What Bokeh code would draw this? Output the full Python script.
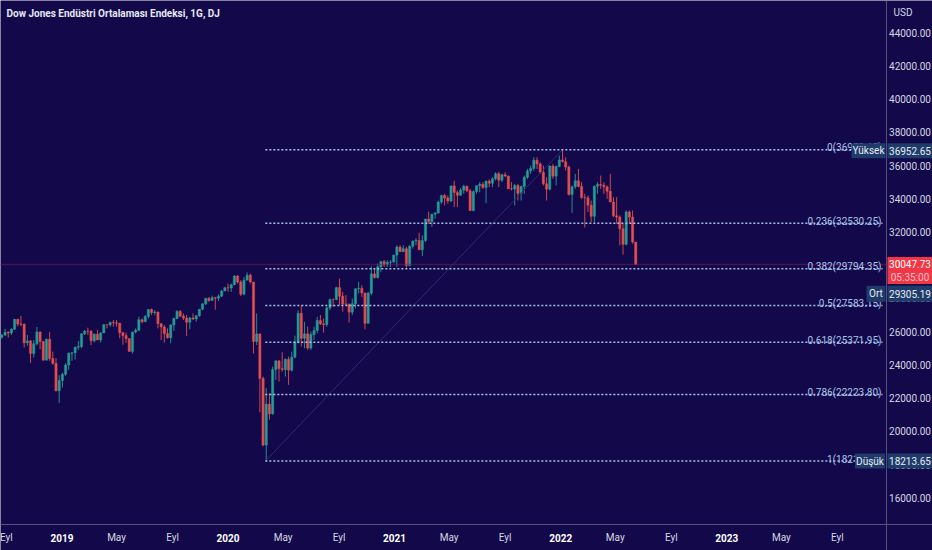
import pandas as pd
from bokeh.plotting import figure
from bokeh.models import Range1d, Span
from bokeh.core.properties import value
from bokeh.embed import file_html
from bokeh.resources import INLINE

# ---------------- data (weekly candles) ----------------
first_week = "2018-08-20"
opens = [25670, 25790, 25965, 25917, 26154, 26744, 26458, 26447, 25340, 25444, 24688, 25270, 25989, 25413, 24286, 25538, 24389, 24100, 22445, 23062,
         23433, 23996, 24706, 24737, 25064, 25106, 25883, 26031, 26026, 25450, 25849, 25502, 25929, 26425, 26412, 26559, 26543, 26505, 25942, 25764, 25586, 24815, 25984, 26090, 26719, 26600, 26922, 27332, 27154, 27192, 26485, 26287, 25886, 25629, 26403, 26797, 27220, 26935, 26820, 26573, 26817, 26770, 26958, 27347, 27681, 28005, 27876, 28051, 28015, 28135, 28455, 28645,
         28634, 28823, 29348, 28989, 28256, 29102, 29398, 28992, 25409, 25864, 23186, 19174, 21637, 21053, 23719, 24242, 23775, 23724, 24331, 23685, 24465, 25383, 27111, 25605, 25871, 25016, 25827, 26075, 26672, 26470, 26428, 27433, 27931, 27930, 28654, 28133, 27666, 27657, 27174, 27683, 28587, 28606, 28335, 26502, 28323, 29479, 29263, 29910, 30218, 30046, 30179, 30200,
         30606, 31098, 30814, 30997, 29983, 31148, 31458, 31494, 30932, 31496, 32779, 32628, 33073, 33153, 33801, 34200, 34043, 33875, 34778, 34382, 34208, 34529, 34756, 34480, 33290, 34433, 34786, 34870, 34688, 35062, 34935, 35209, 35515, 35120, 35455, 35369, 34608, 34585, 34798, 34326, 34746, 35295, 35677, 35820, 36328, 36100, 35602, 34899, 34580, 35971, 35365, 35950,
         36338, 36232, 35912, 34265, 34725, 35089, 34738, 34079, 34059, 33615, 32944, 34755, 34862, 34818, 34721, 34451, 33811, 32977, 32900, 32197, 31262, 33213, 32900, 31393]
highs = [25850, 26170, 26030, 26200, 26770, 26770, 26951, 26500, 25800, 25500, 25500, 26280, 26000, 25420, 25600, 25980, 24800, 24400, 23380, 23530,
         24100, 24750, 24760, 25100, 25440, 25900, 26100, 26240, 26100, 25900, 26110, 25960, 26450, 26450, 26600, 26700, 26700, 26550, 26000, 25950, 25600, 26000, 26200, 26900, 26800, 27000, 27360, 27398, 27300, 27200, 26500, 26400, 26200, 26450, 26850, 27300, 27300, 27100, 27000, 26900, 27100, 27000, 27350, 27700, 28050, 28090, 28170, 28100, 28250, 28500, 28700, 28900,
         28900, 29400, 29400, 29100, 29300, 29568, 29500, 28992, 27100, 25900, 23300, 22600, 22300, 23900, 24300, 24300, 24760, 24400, 24500, 24800, 25760, 27300, 27580, 26600, 26300, 26000, 26300, 26900, 27000, 26800, 27500, 28000, 28000, 28700, 29199, 28400, 28200, 27700, 28000, 28600, 29000, 28800, 28340, 28400, 29933, 29800, 30100, 30250, 30320, 30300, 30300, 30640,
         31200, 31200, 31200, 31100, 31200, 31500, 31640, 31960, 31800, 32800, 33227, 33100, 33200, 33900, 34250, 34300, 34200, 34810, 35091, 34500, 34650, 34850, 34800, 34600, 34500, 34800, 35000, 35000, 35100, 35171, 35300, 35600, 35630, 35500, 35600, 35400, 35000, 34900, 34900, 34800, 35400, 35800, 36000, 36500, 36500, 36200, 36000, 35300, 36000, 36100, 36000, 36600,
         36952.65, 36500, 36000, 34800, 35500, 35800, 35000, 34300, 34200, 33900, 34800, 35000, 35400, 35000, 34800, 35500, 34100, 34100, 33000, 32500, 33300, 33300, 33300, 31393]
lows = [25580, 25760, 25650, 25800, 26100, 26330, 26330, 25050, 25150, 24122, 24450, 25170, 24950, 24270, 24280, 24250, 24000, 22396, 21712, 22640,
        23340, 23700, 24250, 24320, 24900, 25000, 25800, 25800, 25200, 25360, 25500, 25340, 25920, 26200, 26300, 26300, 26300, 25600, 25220, 25330, 24800, 24680, 25900, 26030, 26500, 26600, 26800, 27000, 27000, 26200, 25500, 25340, 25600, 25300, 26050, 26750, 26900, 26700, 25740, 26150, 26700, 26600, 26900, 27300, 27600, 27800, 27870, 27320, 27850, 28100, 28450, 28400,
        28400, 28800, 28900, 28150, 28200, 29100, 28900, 24681, 25200, 21150, 19100, 18213.65, 20700, 21000, 23100, 23000, 23600, 23300, 22800, 23600, 24400, 25300, 25100, 25000, 24900, 24900, 25500, 25900, 26400, 25950, 26300, 27300, 27500, 27900, 27600, 27200, 27600, 26540, 27000, 27400, 28300, 28100, 26143, 26500, 28200, 29200, 29200, 29600, 29900, 29900, 29900, 30150,
        29900, 30800, 30800, 29856, 29950, 31000, 31200, 30900, 30547, 31400, 32500, 32300, 32800, 33100, 33700, 33600, 33700, 33800, 33500, 33500, 34200, 34300, 34400, 33270, 33250, 34300, 34400, 34600, 33741, 34700, 34700, 35100, 34700, 35000, 35300, 34600, 34500, 33600, 33900, 33900, 34300, 35200, 35500, 35700, 35800, 35500, 34800, 33900, 34500, 35200, 34800, 35900,
        36200, 35700, 34200, 33150, 34600, 34700, 34000, 32272, 33200, 32600, 32600, 34300, 34600, 34300, 34000, 33800, 32900, 32500, 31200, 30635, 31200, 32500, 31300, 30040]
closes = [25790, 25965, 25917, 26154, 26744, 26458, 26447, 25340, 25444, 24688, 25270, 25989, 25413, 24286, 25538, 24389, 24100, 22445, 23062, 23433,
          23996, 24706, 24737, 25064, 25106, 25883, 26031, 26026, 25450, 25849, 25502, 25929, 26425, 26412, 26559, 26543, 26505, 25942, 25764, 25586, 24815, 25984, 26090, 26719, 26600, 26922, 27332, 27154, 27192, 26485, 26287, 25886, 25629, 26403, 26797, 27220, 26935, 26820, 26573, 26817, 26770, 26958, 27347, 27681, 28005, 27876, 28051, 28015, 28135, 28455, 28645, 28634,
          28823, 29348, 28989, 28256, 29102, 29398, 28992, 25409, 25864, 23186, 19174, 21637, 21053, 23719, 24242, 23775, 23724, 24331, 23685, 24465, 25383, 27111, 25605, 25871, 25016, 25827, 26075, 26672, 26470, 26428, 27433, 27931, 27930, 28654, 28133, 27666, 27657, 27174, 27683, 28587, 28606, 28335, 26502, 28323, 29479, 29263, 29910, 30218, 30046, 30179, 30200, 30606,
          31098, 30814, 30997, 29983, 31148, 31458, 31494, 30932, 31496, 32779, 32628, 33073, 33153, 33801, 34200, 34043, 33875, 34778, 34382, 34208, 34529, 34756, 34480, 33290, 34433, 34786, 34870, 34688, 35062, 34935, 35209, 35515, 35120, 35455, 35369, 34608, 34585, 34798, 34326, 34746, 35295, 35677, 35820, 36328, 36100, 35602, 34899, 34580, 35971, 35365, 35950, 36338,
          36232, 35912, 34265, 34725, 35089, 34738, 34079, 34059, 33615, 32944, 34755, 34862, 34818, 34721, 34451, 33811, 32977, 32900, 32197, 31262, 33213, 32900, 31393, 30047.73]

fib_levels = ["0", "0.236", "0.382", "0.5", "0.618", "0.786", "1"]
fib_prices = [36952.65, 32530.25, 29794.35, 27583.15, 25371.95, 22223.80, 18213.65]
swing_dates = ["2020-03-23", "2022-01-05"]
swing_prices = [18213.65, 36952.65]
last_price = 30047.73
last_time = "05:35:00"
avg_price = 29305.19

x_tick_dates = ["2018-09-01", "2019-01-01", "2019-05-01", "2019-09-01", "2020-01-01", "2020-05-01",
                "2020-09-01", "2021-01-01", "2021-05-01", "2021-09-01", "2022-01-01", "2022-05-01",
                "2022-09-01", "2023-01-01", "2023-05-01", "2023-09-01"]
x_tick_labels = ["Eyl", "2019", "May", "Eyl", "2020", "May", "Eyl", "2021", "May", "Eyl",
                 "2022", "May", "Eyl", "2023", "May", "Eyl"]
y_ticks = [16000, 18000, 20000, 22000, 24000, 26000, 28000, 30000, 32000, 34000, 36000, 38000, 40000, 42000, 44000]

title_text = "Dow Jones Endüstri Ortalaması Endeksi, 1G, DJ"
currency = "USD"

# ---------------- styling ----------------
BG = "#13084a"
AXIS = "#56517c"
TXT = "#d6d8e2"
UP = "#26a69a"
DOWN = "#ef5350"
TAG = "#1f3b69"
RED = "#f23645"
FIB = "#a9c3e8"
FONT = value("Roboto")
FS = value("10px")

DAY = 86400000


def ms(s):
    return pd.Timestamp(s).value // 10**6


# pixel <-> data helpers (the plotting frame covers the whole 932x550 page;
# the price scale and time scale strips are drawn inside it)
X0 = ms("2018-08-19")
XPX = (ms("2023-12-18") - X0) / 886.0
YTOP = 45938.0
YPX = 60.2


def px_x(px):
    return X0 + px * XPX


def py_y(py):
    return YTOP - py * YPX


def y_py(price):
    return (YTOP - price) / YPX


week_ms = [ms(d) for d in pd.date_range(first_week, periods=len(closes), freq="7D")]
mid = [w + 2 * DAY for w in week_ms]

p = figure(width=932, height=550, x_range=Range1d(px_x(0), px_x(932)), y_range=Range1d(py_y(550), py_y(0)),
           output_backend="svg", toolbar_location=None, x_axis_location=None, y_axis_location=None,
           min_border=0, background_fill_color=BG, border_fill_color=BG, outline_line_color=None)
p.xgrid.visible = False
p.ygrid.visible = False

# candles
up_i = [i for i in range(len(closes)) if closes[i] >= opens[i]]
dn_i = [i for i in range(len(closes)) if closes[i] < opens[i]]
for idx, col in ((up_i, UP), (dn_i, DOWN)):
    xs = [mid[i] for i in idx]
    p.segment(x0=xs, x1=xs, y0=[lows[i] for i in idx], y1=[highs[i] for i in idx],
              line_color=col, line_width=1, line_alpha=0.85)
    p.vbar(x=xs, width=5 * DAY, top=[max(opens[i], closes[i]) for i in idx],
           bottom=[min(opens[i], closes[i]) for i in idx], fill_color=col, line_color=col,
           line_width=0.5, fill_alpha=0.85, line_alpha=0.85)

# trend line between swing low and swing high
p.line(x=[ms(d) for d in swing_dates], y=swing_prices, line_color="#33286f", line_width=1)

# current price line
p.segment(x0=[px_x(0)], x1=[px_x(886)], y0=[last_price], y1=[last_price],
          line_color="#6e2359", line_width=1.5, line_dash="1 1")

# fib retracement levels
n = len(fib_prices)
p.segment(x0=[ms(swing_dates[0])] * n, x1=[px_x(882)] * n, y0=fib_prices, y1=fib_prices,
          line_color=FIB, line_width=1.5, line_dash="2 2")
p.text(x=[px_x(881)] * n, y=[py_y(y_py(pr) - 2) for pr in fib_prices],
       text=[f"{l}({pr:.2f})" for l, pr in zip(fib_levels, fib_prices)],
       text_align="right", text_baseline="alphabetic", text_color=FIB, text_font=FONT, text_font_size=FS)

# scale separators
p.add_layout(Span(location=px_x(886), dimension="height", line_color=AXIS, line_width=1))
p.add_layout(Span(location=py_y(524), dimension="width", line_color=AXIS, line_width=1))

# price scale labels
p.text(x=[px_x(909.5)] * len(y_ticks), y=y_ticks, text=[f"{t:.2f}" for t in y_ticks],
       text_align="center", text_baseline="middle", text_color=TXT, text_font=FONT, text_font_size=FS)
p.text(x=[px_x(893)], y=[py_y(12)], text=[currency], text_align="left", text_baseline="middle",
       text_color=TXT, text_font=FONT, text_font_size=FS)

# time scale labels (years in bold)
tick_ms = [ms(d) for d in x_tick_dates]
mon = [i for i, l in enumerate(x_tick_labels) if not l.isdigit()]
yrs = [i for i, l in enumerate(x_tick_labels) if l.isdigit()]
p.text(x=[tick_ms[i] for i in mon], y=[py_y(537)] * len(mon), text=[x_tick_labels[i] for i in mon],
       text_align="center", text_baseline="middle", text_color=TXT, text_font=FONT, text_font_size=FS)
p.text(x=[tick_ms[i] for i in yrs], y=[py_y(537)] * len(yrs), text=[x_tick_labels[i] for i in yrs],
       text_align="center", text_baseline="middle", text_color="#ffffff", text_font=FONT,
       text_font_size=FS, text_font_style="bold")

# title
p.text(x=[px_x(6)], y=[py_y(13)], text=[title_text], text_align="left", text_baseline="middle",
       text_color="#e6e8f0", text_font=FONT, text_font_size=FS, text_font_style="bold")


# tags (boxes + texts)
def tag(text, cx, w, cy, h, bg, fg):
    p.rect(x=[px_x(cx)], y=[py_y(cy)], width=w, height=h, width_units="screen", height_units="screen",
           fill_color=bg, line_color=None)
    p.text(x=[px_x(cx)], y=[py_y(cy)], text=[text], text_align="center", text_baseline="middle",
           text_color=fg, text_font=FONT, text_font_size=FS)


hi_py = y_py(fib_prices[0])
lo_py = y_py(fib_prices[-1])
last_py = y_py(last_price)
avg_py = y_py(avg_price) + 17

tag("Yüksek", 868, 34, hi_py + 1, 15, TAG, "#e8ecf5")
tag(f"{fib_prices[0]:.2f}", 909.5, 45, hi_py + 1, 15, TAG, "#e8ecf5")
tag("Düşük", 869.5, 30, lo_py, 15, TAG, "#e8ecf5")
tag(f"{fib_prices[-1]:.2f}", 909.5, 45, lo_py, 15, TAG, "#e8ecf5")
p.rect(x=[px_x(909.5)], y=[py_y(last_py + 6)], width=45, height=27, width_units="screen",
       height_units="screen", fill_color=RED, line_color=None)
p.text(x=[px_x(909.5)] * 2, y=[py_y(last_py), py_y(last_py + 13)], text=[f"{last_price:.2f}", last_time],
       text_align="center", text_baseline="middle", text_color=["#ffffff", "#ffc4cb"],
       text_font=FONT, text_font_size=FS)
tag("Ort", 875.5, 19, avg_py, 16, TAG, "#e8ecf5")
tag(f"{avg_price:.2f}", 909.5, 45, avg_py, 16, TAG, "#e8ecf5")

open("out.html", "w").write(file_html(p, INLINE))
